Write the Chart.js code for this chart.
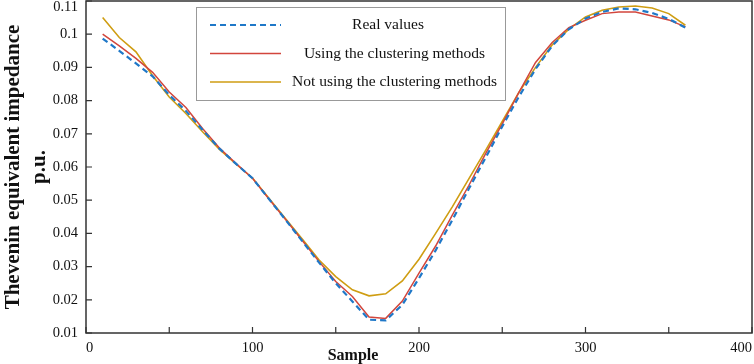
<!DOCTYPE html>
<html>
<head>
<meta charset="utf-8">
<script src="https://cdn.jsdelivr.net/npm/chart.js@4/dist/chart.umd.min.js"></script>
<style>
  html, body { margin: 0; padding: 0; background: #fff; }
  #wrap { width: 754px; height: 364px; }
</style>
</head>
<body>
<div id="wrap"><canvas id="myChart"></canvas></div>
<script>
// sample index (x axis)
const samples = [10, 20, 30, 40, 50, 60, 70, 80, 90, 100, 110, 120, 130, 140, 150, 160, 170, 180,
                 190, 200, 210, 220, 230, 240, 250, 260, 270, 280, 290, 300, 310, 320, 330, 340, 350, 360];

// Thevenin equivalent impedance, p.u.
const realValues = [0.0987, 0.0950, 0.0912, 0.0873, 0.0817, 0.0769, 0.0712, 0.0656, 0.0610, 0.0566, 0.0503, 0.0440,
                    0.0376, 0.0312, 0.0250, 0.0195, 0.0140, 0.0138, 0.0185, 0.0265, 0.0349, 0.0440, 0.0535, 0.0628,
                    0.0722, 0.0812, 0.0895, 0.0965, 0.1015, 0.1047, 0.1067, 0.1078, 0.1075, 0.1064, 0.1046, 0.1020];
const withClustering = [0.1000, 0.0965, 0.0927, 0.0885, 0.0826, 0.0779, 0.0716, 0.0658, 0.0611, 0.0566, 0.0503, 0.0441,
                        0.0378, 0.0315, 0.0255, 0.0210, 0.0148, 0.0144, 0.0196, 0.0280, 0.0362, 0.0455, 0.0545, 0.0640,
                        0.0730, 0.0825, 0.0915, 0.0975, 0.1020, 0.1042, 0.1062, 0.1067, 0.1067, 0.1055, 0.1043, 0.1022];
const withoutClustering = [0.1050, 0.0990, 0.0947, 0.0875, 0.0811, 0.0761, 0.0706, 0.0654, 0.0609, 0.0567, 0.0505, 0.0443,
                           0.0382, 0.0320, 0.0270, 0.0230, 0.0212, 0.0218, 0.0257, 0.0322, 0.0400, 0.0480, 0.0565, 0.0650,
                           0.0737, 0.0825, 0.0900, 0.0968, 0.1015, 0.1052, 0.1072, 0.1082, 0.1085, 0.1079, 0.1062, 0.1027];

const seriesNames = ['Real values', 'Using the clustering methods', 'Not using the clustering methods'];
const xTicks = [0, 100, 200, 300, 400];
const yTicks = [0.01, 0.02, 0.03, 0.04, 0.05, 0.06, 0.07, 0.08, 0.09, 0.1, 0.11];

const SERIF = '"Liberation Serif", "Times New Roman", serif';

function toPoints(vals) {
  return samples.map((s, i) => ({ x: s, y: vals[i] }));
}

// box round the plot, inward ticks, legend and the x title
const framePlugin = {
  id: 'frame',
  afterDraw(chart) {
    const ctx = chart.ctx;
    const a = chart.chartArea;
    const xs = chart.scales.x, ys = chart.scales.y;
    ctx.save();
    ctx.strokeStyle = '#333';
    ctx.lineWidth = 1.5;
    ctx.strokeRect(a.left, a.top, a.right - a.left, a.bottom - a.top);

    ctx.lineWidth = 1.2;
    ctx.beginPath();
    xs.ticks.forEach(t => {
      const px = xs.getPixelForValue(t.value);
      ctx.moveTo(px, a.bottom);
      ctx.lineTo(px, a.bottom - 6);
    });
    ys.ticks.forEach(t => {
      const py = ys.getPixelForValue(t.value);
      ctx.moveTo(a.left, py);
      ctx.lineTo(a.left + 6, py);
    });
    ctx.stroke();

    // top y label sits just under the canvas edge
    ctx.fillStyle = '#111';
    ctx.font = '14.5px ' + SERIF;
    ctx.textAlign = 'right';
    ctx.textBaseline = 'top';
    ctx.fillText(String(yTicks[yTicks.length - 1]), a.left - 8, 0);

    // x title
    ctx.font = 'bold 16px ' + SERIF;
    ctx.textAlign = 'center';
    ctx.textBaseline = 'middle';
    ctx.fillText('Sample', 353, 356);

    // legend
    const lx = 196, ly = 7, lw = 309, lh = 93;
    ctx.fillStyle = '#fff';
    ctx.fillRect(lx, ly, lw, lh);
    ctx.strokeStyle = '#999';
    ctx.lineWidth = 1;
    ctx.strokeRect(lx + 0.5, ly + 0.5, lw, lh);
    const rows = [25, 53.5, 82];
    const textX = [388, 394.5, 394.5];
    chart.data.datasets.forEach((ds, i) => {
      ctx.strokeStyle = ds.borderColor;
      ctx.lineWidth = ds.borderWidth;
      ctx.setLineDash(ds.borderDash || []);
      ctx.beginPath();
      ctx.moveTo(210, rows[i]);
      ctx.lineTo(281, rows[i]);
      ctx.stroke();
      ctx.setLineDash([]);
      ctx.fillStyle = '#111';
      ctx.font = '15.5px ' + SERIF;
      ctx.textAlign = 'center';
      ctx.fillText(ds.label, textX[i], rows[i]);
    });
    ctx.restore();
  }
};

const ctx = document.getElementById('myChart').getContext('2d');
new Chart(ctx, {
  type: 'line',
  data: {
    datasets: [
      {
        label: seriesNames[0],
        data: toPoints(realValues),
        borderColor: '#1f78c8',
        borderWidth: 2.2,
        borderDash: [6, 4]
      },
      {
        label: seriesNames[1],
        data: toPoints(withClustering),
        borderColor: '#d2463c',
        borderWidth: 1.5
      },
      {
        label: seriesNames[2],
        data: toPoints(withoutClustering),
        borderColor: '#cf9d12',
        borderWidth: 1.6
      }
    ]
  },
  options: {
    responsive: true,
    maintainAspectRatio: false,
    animation: false,
    layout: { padding: { top: 1, right: 2, left: 0, bottom: 0 } },
    elements: { point: { radius: 0 }, line: { tension: 0 } },
    plugins: {
      legend: { display: false },
      tooltip: { enabled: false }
    },
    scales: {
      x: {
        type: 'linear',
        min: 0,
        max: 400,
        grid: { display: false, drawTicks: false },
        border: { display: false },
        ticks: {
          stepSize: 50,
          padding: 6,
          align: 'inner',
          color: '#111',
          font: { family: SERIF, size: 14.5 },
          maxRotation: 0,
          callback: v => (xTicks.includes(v) ? v : '')
        },
        afterFit: s => { s.height = 31; s.paddingLeft = 0; s.paddingRight = 0; }
      },
      y: {
        min: 0.01,
        max: 0.11,
        grid: { display: false, drawTicks: false },
        border: { display: false },
        ticks: {
          stepSize: 0.01,
          padding: 8,
          color: '#111',
          font: { family: SERIF, size: 14.5 },
          callback: v => {
            const r = Math.round(v * 100) / 100;
            return r === yTicks[yTicks.length - 1] ? '' : String(r);
          }
        },
        title: {
          display: true,
          text: ['Thevenin equivalent impedance', 'p.u.'],
          color: '#111',
          font: { family: SERIF, size: 21, weight: 'bold', lineHeight: 1.25 },
          padding: { top: 0, bottom: 0 }
        },
        afterFit: s => { s.width = 86; s.paddingTop = 0; s.paddingBottom = 0; }
      }
    }
  },
  plugins: [framePlugin]
});
</script>
</body>
</html>
